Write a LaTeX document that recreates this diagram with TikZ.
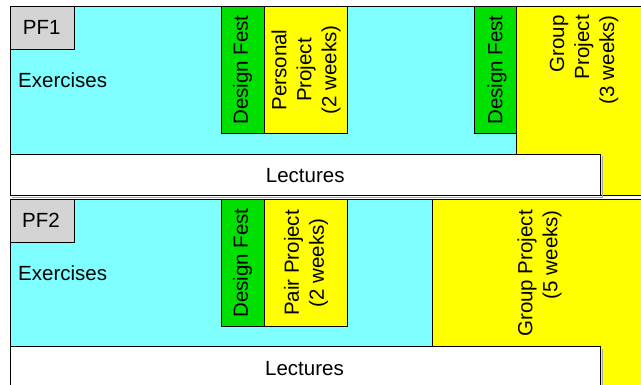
\documentclass[tikz,border=0pt]{standalone}
\usepackage{fontspec}
\setmainfont{Liberation Sans}
\definecolor{excyan}{HTML}{7FFFFF}
\definecolor{dfgreen}{HTML}{00E000}
\definecolor{pjyellow}{HTML}{FFFF00}
\definecolor{pfgray}{HTML}{D4D4D4}
\begin{document}
\begin{tikzpicture}[x=1pt,y=-1pt,
  box/.style={draw=black,line width=0.8pt},
  lbl/.style={inner sep=0pt,font=\fontsize{20.5}{25}\selectfont},
  vlbl/.style={lbl,rotate=90,align=center},
  shadow/.style={draw=black!35,line width=0.8pt}]
\useasboundingbox (0,0) rectangle (641,385);
\fill[white] (0,0) rectangle (641,385);
% ---------- Panel 1 ----------
\draw[box,fill=excyan] (10.7,6.7) rectangle (516,154);
\draw[box,fill=pjyellow] (516,6.7) rectangle (645,195.5);
\draw[shadow] (12,197) -- (602,197) -- (602,156);
\draw[box,fill=white] (10.7,154) rectangle (600.7,195.5);
\draw[box,fill=pfgray] (10.7,6.7) rectangle (74,49);
\draw[box,fill=dfgreen] (221,6.7) rectangle (264,133);
\draw[box,fill=pjyellow] (264,6.7) rectangle (347,133);
\draw[box,fill=dfgreen] (474,6.7) rectangle (516,133);
\node[lbl,anchor=base west] (pf1) at (22.7,35) {PF1};
\node[lbl,anchor=base west] (ex1) at (18,87.7) {Exercises};
\node[vlbl] (df1a) at (242.5,70) {Design Fest};
\node[vlbl] (pp1) at (306,70) {Personal\\Project\\(2 weeks)};
\node[vlbl] (df1b) at (497,70) {Design Fest};
\node[vlbl,align=right,anchor=east] (gp1) at (584,15) {Group\\Project\\(3 weeks)};
\node[lbl] (lec1) at (305.2,175.5) {Lectures};
% ---------- Panel 2 ----------
\draw[box,fill=excyan] (10.7,199.4) rectangle (432,346.7);
\draw[box,fill=pjyellow] (432,199.4) rectangle (645,390);
\draw[shadow] (602,349) -- (602,390);
\draw[box,fill=white] (10.7,346.7) rectangle (600.7,390);
\draw[box,fill=pfgray] (10.7,199.4) rectangle (74,242);
\draw[box,fill=dfgreen] (221,199.4) rectangle (264,326);
\draw[box,fill=pjyellow] (264,199.4) rectangle (347,326);
\node[lbl,anchor=base west] (pf2) at (22,227.7) {PF2};
\node[lbl,anchor=base west] (ex2) at (18,280.7) {Exercises};
\node[vlbl] (df2) at (242.5,263) {Design Fest};
\node[vlbl] (pair) at (306,263) {Pair Project\\(2 weeks)};
\node[vlbl,align=right,anchor=east] (gp2) at (539.6,210) {Group Project\\(5 weeks)};
\node[lbl] (lec2) at (304.5,369) {Lectures};
\end{tikzpicture}
\end{document}
